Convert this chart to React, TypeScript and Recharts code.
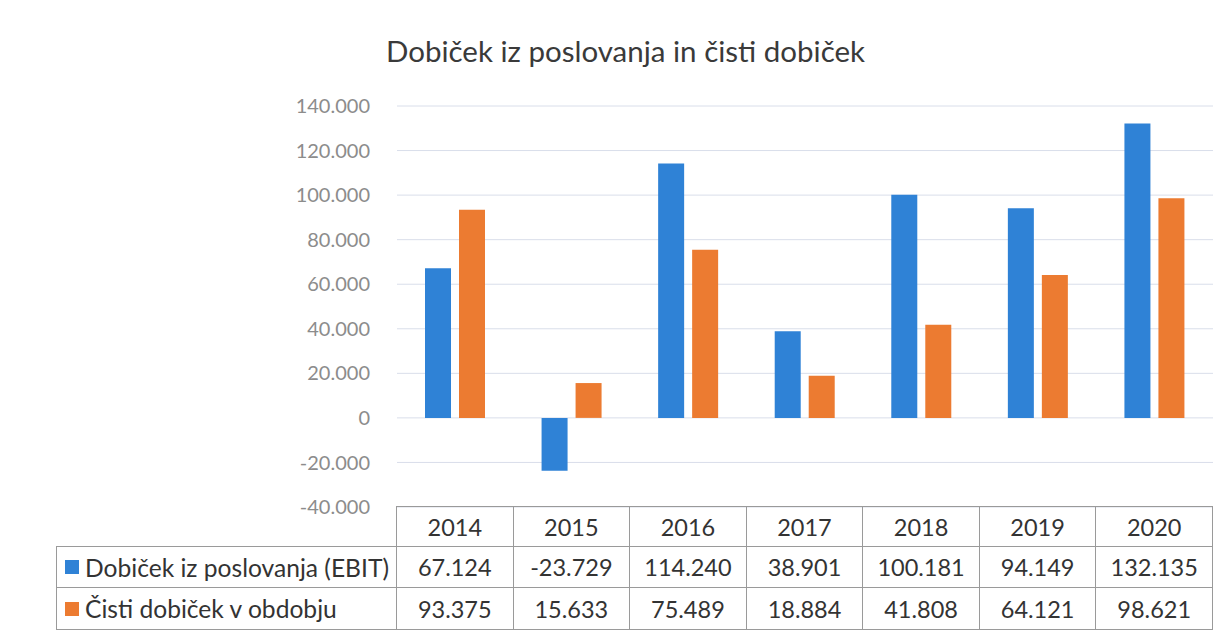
import { Bar, BarChart, CartesianGrid, XAxis, YAxis } from "recharts";

const years = ["2014", "2015", "2016", "2017", "2018", "2019", "2020"];
const ebit = [67124, -23729, 114240, 38901, 100181, 94149, 132135];
const netProfit = [93375, 15633, 75489, 18884, 41808, 64121, 98621];
const yTicks = [-40000, -20000, 0, 20000, 40000, 60000, 80000, 100000, 120000, 140000];
const seriesNames = ["Dobiček iz poslovanja (EBIT)", "Čisti dobiček v obdobju"];

const BLUE = "#2f82d6";
const ORANGE = "#ec7b31";
const FONT = "Lato, 'Open Sans', sans-serif";

// plot area in page pixels
const PLOT_LEFT = 397;
const PLOT_RIGHT = 1213;
const PLOT_TOP = 106;
const PLOT_BOTTOM = 507;
const COL_W = (PLOT_RIGHT - PLOT_LEFT) / years.length;
const LEGEND_LEFT = 57;

// 67124 -> "67.124", -23729 -> "-23.729"
function fmt(v: number) {
  if (v === 0) return "0";
  const sign = v < 0 ? "-" : "";
  const s = String(Math.abs(v));
  return sign + s.replace(/\B(?=(\d{3})+(?!\d))/g, ".");
}

const data = years.map((y, i) => ({ year: y, ebit: ebit[i], net: netProfit[i] }));

export default function App() {
  const cell = (
    left: number,
    top: number,
    width: number,
    height: number,
    content: React.ReactNode,
    align: "center" | "left" = "center",
    fontSize = 23.5
  ) => (
    <div
      style={{
        position: "absolute",
        left,
        top,
        width,
        height,
        boxSizing: "border-box",
        border: "1px solid #9a9a9a",
        marginLeft: -1,
        marginTop: -1,
        display: "flex",
        alignItems: "center",
        justifyContent: align === "center" ? "center" : "flex-start",
        paddingLeft: align === "left" ? 8 : 0,
        fontSize,
        color: "#333",
        whiteSpace: "nowrap",
      }}
    >
      {content}
    </div>
  );

  const rowTops = [507, 547, 588];
  const rowH = [41, 42, 43];
  const rows = [ebit, netProfit];
  const colors = [BLUE, ORANGE];

  return (
    <div style={{ position: "absolute", left: 0, top: 0, width: 1227, height: 638, background: "#fff", fontFamily: FONT }}>
      <div
        style={{
          position: "absolute",
          left: 0,
          width: 1227,
          top: 33,
          textAlign: "center",
          fontSize: 29.5,
          color: "#3a3a3a",
          paddingLeft: 24,
          boxSizing: "border-box",
        }}
      >
        Dobiček iz poslovanja in čisti dobiček
      </div>
      <div style={{ position: "absolute", left: 0, top: 0 }}>
        <BarChart
          width={1227}
          height={638}
          data={data}
          margin={{ top: PLOT_TOP, bottom: 638 - PLOT_BOTTOM, left: 0, right: 1227 - PLOT_RIGHT }}
          barSize={26}
          barGap={8}
        >
          <CartesianGrid vertical={false} stroke="#d9deea" />
          <XAxis dataKey="year" hide />
          <YAxis
            width={PLOT_LEFT}
            domain={[-40000, 140000]}
            ticks={yTicks}
            tickFormatter={fmt}
            axisLine={false}
            tickLine={false}
            tickMargin={21}
            tick={{ fill: "#8c8c8c", fontSize: 20, fontFamily: FONT }}
            interval={0}
          />
          <Bar dataKey="ebit" fill={BLUE} isAnimationActive={false} />
          <Bar dataKey="net" fill={ORANGE} isAnimationActive={false} />
        </BarChart>
      </div>
      {years.map((y, i) => (
        <div key={"h" + y}>{cell(PLOT_LEFT + i * COL_W, rowTops[0], COL_W + 1, rowH[0], y)}</div>
      ))}
      {rows.map((vals, r) => (
        <div key={"r" + r}>
          {cell(
            LEGEND_LEFT,
            rowTops[r + 1],
            PLOT_LEFT - LEGEND_LEFT + 1,
            rowH[r + 1],
            <>
              <span style={{ display: "inline-block", width: 14, height: 14, background: colors[r], marginRight: 6 }} />
              {seriesNames[r]}
            </>,
            "left",
            24.6
          )}
          {vals.map((v, i) => (
            <div key={i}>{cell(PLOT_LEFT + i * COL_W, rowTops[r + 1], COL_W + 1, rowH[r + 1], fmt(v))}</div>
          ))}
        </div>
      ))}
    </div>
  );
}
